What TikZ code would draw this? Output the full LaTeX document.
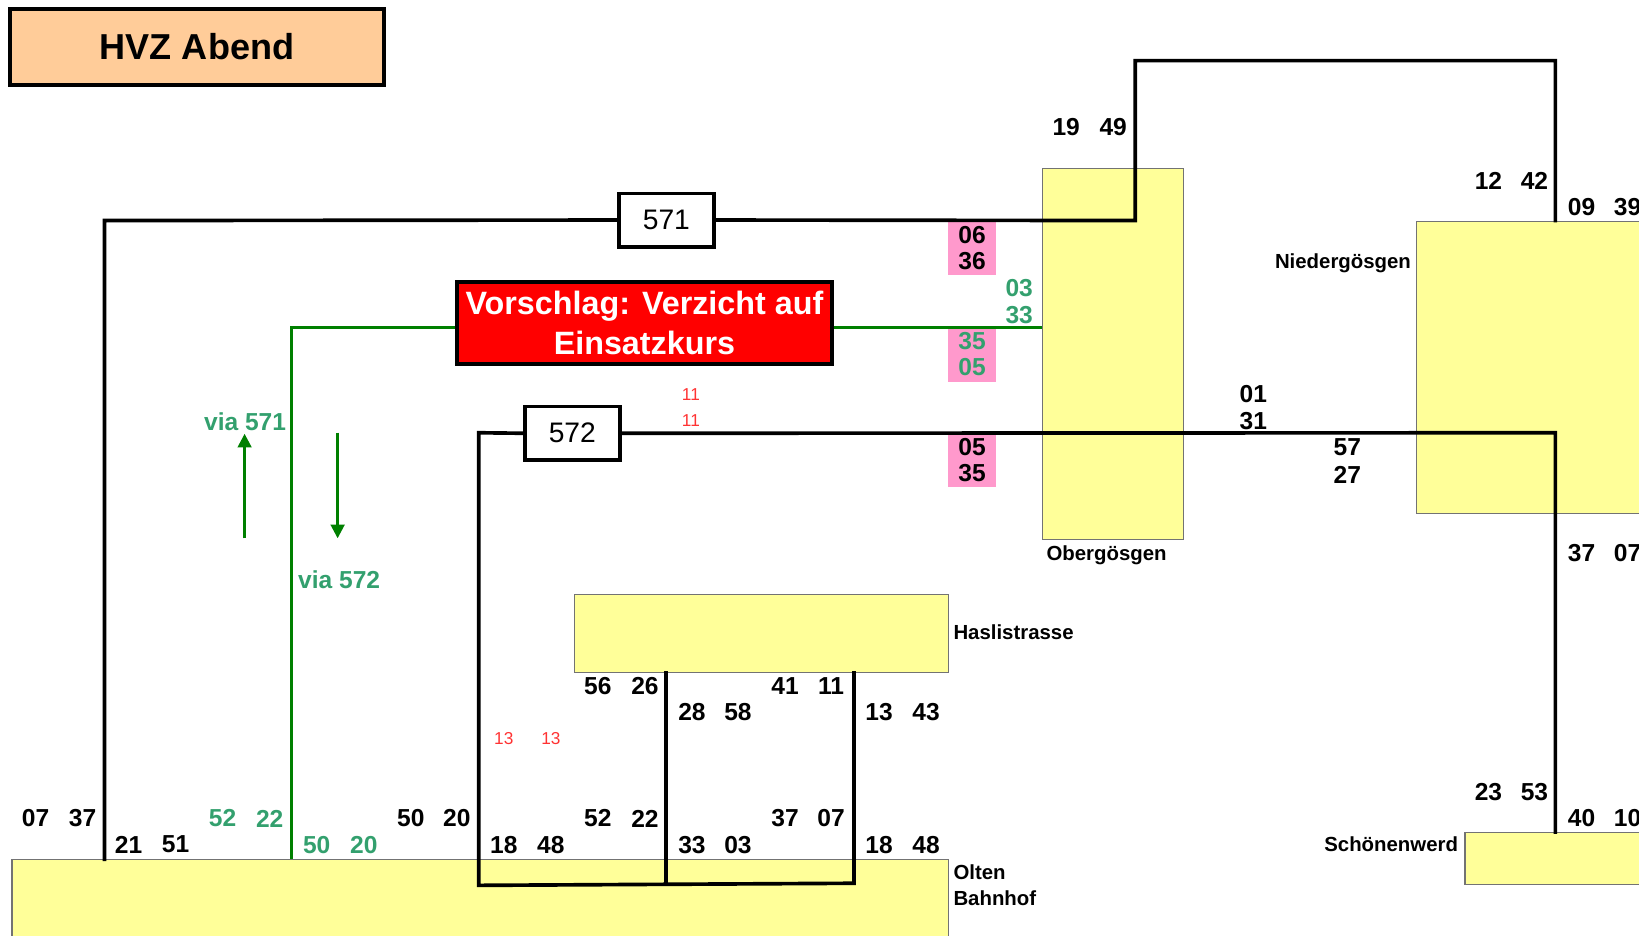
\documentclass[tikz,border=0pt]{standalone}
\usepackage{fontspec}
\setmainfont{Liberation Sans}
\usetikzlibrary{arrows.meta}
\definecolor{styellow}{RGB}{255,255,153}
\definecolor{hvzorange}{RGB}{255,204,153}
\definecolor{pinkbg}{RGB}{255,153,204}
\definecolor{gtext}{RGB}{51,160,110}
\definecolor{gline}{RGB}{0,128,0}
\definecolor{rtext}{RGB}{255,51,51}
\definecolor{propred}{RGB}{255,0,0}
\begin{document}
\begin{tikzpicture}[x=1pt,y=-1pt,
  station/.style={draw=black!55, line width=1pt, fill=styellow, inner sep=0pt, anchor=north west},
  num/.style={font=\bfseries\fontsize{23.5}{23.5}\selectfont, inner sep=0pt, text=black},
  gnum/.style={num, text=gtext},
  rnum/.style={font=\fontsize{16.5}{16.5}\selectfont, inner sep=0pt, text=rtext},
  stlabel/.style={font=\bfseries\fontsize{19.5}{25}\selectfont, inner sep=0pt},
  route/.style={line width=3.5pt, black, line cap=rect},
  groute/.style={line width=3pt, gline},
  linebox/.style={draw=black, line width=3.5pt, fill=white, inner sep=0pt, font=\fontsize{27}{27}\selectfont},
  pinkbox/.style={fill=pinkbg, inner sep=0pt, minimum width=46pt, minimum height=51pt},
  garrow/.style={gline, line width=2.5pt, -{Triangle[width=13pt,length=13pt]}}
]
\useasboundingbox (0,0) rectangle (1568,895.4);

% title
\node[draw=black, line width=3.5pt, fill=hvzorange, minimum width=358pt, minimum height=73pt, inner sep=0pt,
  font=\bfseries\fontsize{34.5}{34.5}\selectfont] (title) at (188.5,45) {HVZ Abend};

% stations
\node[station, minimum width=135pt, minimum height=355pt] (ober) at (997,161) {};
\node[station, minimum width=260pt, minimum height=280pt] (nied) at (1355,211) {};
\node[station, minimum width=358pt, minimum height=75pt] (hasl) at (549,568) {};
\node[station, minimum width=896pt, minimum height=100pt] (olten) at (11,822) {};
\node[station, minimum width=220pt, minimum height=50pt] (schoen) at (1401,796) {};

\node[stlabel, anchor=base west] (lober) at (1001,536) {Obergösgen};
\node[stlabel, anchor=base east] (lnied) at (1350,257) {Niedergösgen};
\node[stlabel, anchor=base west] (lhasl) at (912,612) {Haslistrasse};
\node[stlabel, anchor=base west] (lolten1) at (912,841) {Olten};
\node[stlabel, anchor=base west] (lolten2) at (912,866) {Bahnhof};
\node[stlabel, anchor=base east] (lschoen) at (1395,815) {Schönenwerd};

% pink highlights
\node[pinkbox] (pk1) at (930,237.5) {};
\node[pinkbox] (pk2) at (930,339.5) {};
\node[pinkbox] (pk3) at (930,440.5) {};

% line boxes
\node[linebox, minimum width=91pt, minimum height=51pt] (b571) at (637.5,210.5) {571};
\node[linebox, minimum width=91pt, minimum height=51pt] (b572) at (547.5,414.5) {572};
\node[draw=black, line width=3.5pt, fill=propred, minimum width=359pt, minimum height=78pt, inner sep=0pt,
  align=center, text=white, font=\bfseries\fontsize{30.9}{38}\selectfont] (prop) at (616.5,309) {Vorschlag: Verzicht auf\\Einsatzkurs};

% route 571
\coordinate (c571a) at (100,211);
\coordinate (c571b) at (1086,211);
\coordinate (c571c) at (1086,58);
\coordinate (c571d) at (1488,58);
\draw[route] (c571a |- olten.north) -- (c571a) -- (b571.west);
\draw[route] (b571.east) -- (c571b) -- (c571c) -- (c571d) -- (c571d |- nied.north);

% green route
\coordinate (cga) at (279,313);
\draw[groute] (cga |- olten.north) -- (cga) -- (cga -| prop.west);
\draw[groute] (prop.east |- cga) -- (cga -| ober.west);

% route 572
\coordinate (c572a) at (458,414);
\coordinate (c572b) at (1488,414);
\coordinate (c572c) at (458,847);
\coordinate (c572d) at (637,846);
\coordinate (c572e) at (817,845);
\draw[route] (b572.east) -- (c572b) -- (c572b |- schoen.north);
\draw[route] (b572.west) -- (c572a) -- (c572c) -- (c572d) -- (c572e);
\draw[route] (c572d |- hasl.south) -- (c572d);
\draw[route] (c572e |- hasl.south) -- (c572e);

% arrows
\coordinate (au1) at (234,515);
\coordinate (au2) at (234,415);
\coordinate (ad1) at (323,414);
\coordinate (ad2) at (323,515);
\draw[garrow] (au1) -- (au2);
\draw[garrow] (ad1) -- (ad2);
\node[gnum] (via1) at (234.5,403) {via 571};
\node[gnum] (via2) at (324.5,555) {via 572};

% pink numbers
\node[num] (q1) at (930,225) {06};
\node[num] (q2) at (930,250) {36};
\node[gnum] (q3) at (930,326) {35};
\node[gnum] (q4) at (930,351) {05};
\node[num] (q5) at (930,428) {05};
\node[num] (q6) at (930,453) {35};
\node[gnum] (q7) at (975,276) {03};
\node[gnum] (q8) at (975,301) {33};
\node[rnum] (r1) at (661,377) {11};
\node[rnum] (r2) at (661,402) {11};

% upper right numbers
\node[num] (u1) at (1020,122) {19};
\node[num] (u2) at (1065,122) {49};
\node[num] (u3) at (1424,173) {12};
\node[num] (u4) at (1468,173) {42};
\node[num] (u5) at (1513,198) {09};
\node[num] (u6) at (1557,198) {39};
\node[num] (u7) at (1199,377) {01};
\node[num] (u8) at (1199,403) {31};
\node[num] (u9) at (1289,428) {57};
\node[num] (u10) at (1289,454) {27};
\node[num] (u11) at (1513,529) {37};
\node[num] (u12) at (1557,529) {07};
\node[num] (u13) at (1424,758) {23};
\node[num] (u14) at (1468,758) {53};
\node[num] (u15) at (1513,783) {40};
\node[num] (u16) at (1557,783) {10};

% Olten numbers
\node[num] (o1) at (34,783) {07};
\node[num] (o2) at (79,783) {37};
\node[num] (o3) at (123,808) {21};
\node[num] (o4) at (168,808) {51};
\node[gnum] (o5) at (213,783) {52};
\node[gnum] (o6) at (258,783) {22};
\node[gnum] (o7) at (303,808) {50};
\node[gnum] (o8) at (348,808) {20};
\node[num] (o9) at (393,783) {50};
\node[num] (o10) at (437,783) {20};
\node[num] (o11) at (482,808) {18};
\node[num] (o12) at (527,808) {48};
\node[num] (o13) at (572,783) {52};
\node[num] (o14) at (617,783) {22};
\node[num] (o15) at (662,808) {33};
\node[num] (o16) at (706,808) {03};
\node[num] (o17) at (751,783) {37};
\node[num] (o18) at (795,783) {07};
\node[num] (o19) at (841,808) {18};
\node[num] (o20) at (886,808) {48};

% Haslistrasse numbers
\node[num] (h1) at (572,656) {56};
\node[num] (h2) at (617,656) {26};
\node[num] (h3) at (662,681) {28};
\node[num] (h4) at (706,681) {58};
\node[num] (h5) at (751,656) {41};
\node[num] (h6) at (795,656) {11};
\node[num] (h7) at (841,681) {13};
\node[num] (h8) at (886,681) {43};
\node[rnum] (h9) at (482,707) {13};
\node[rnum] (h10) at (527,707) {13};
\end{tikzpicture}
\end{document}
